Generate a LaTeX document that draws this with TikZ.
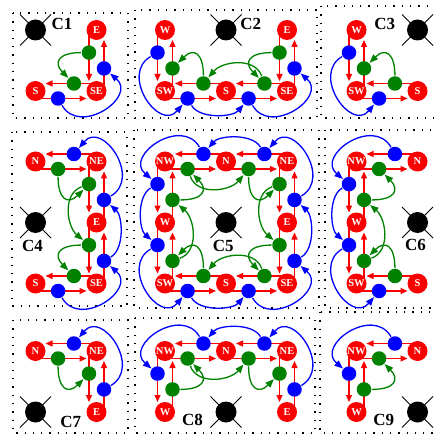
\documentclass[tikz,border=0pt]{standalone}
\usepackage{fontspec}
\setmainfont{Liberation Serif}
\usetikzlibrary{calc,arrows.meta}
\definecolor{rr}{RGB}{250,0,0}
\definecolor{bb}{RGB}{0,0,255}
\definecolor{gg}{RGB}{0,130,0}
\tikzset{
  rnode/.style={circle, fill=rr, minimum size=20pt, inner sep=0pt, text=white, font=\fontsize{10.5}{10.5}\selectfont\bfseries},
  bdot/.style={circle, fill=bb, minimum size=14.5pt, inner sep=0pt},
  gdot/.style={circle, fill=gg, minimum size=14.5pt, inner sep=0pt},
  redarr/.style={draw=rr, line width=1.3pt, shorten >=10pt, -{Triangle[length=7pt,width=6pt]}},
  bcurve/.style={draw=bb, line width=1.3pt, -{Triangle[length=8.5pt,width=6.5pt]}},
  gcurve/.style={draw=gg, line width=1.3pt, -{Triangle[length=8.5pt,width=6.5pt]}},
  dotbox/.style={draw=black, line width=1.3pt, dash pattern=on 1.3pt off 7pt},
  lbl/.style={font=\fontsize{17}{17}\selectfont\bfseries, inner sep=0pt},
  obnode/.style={circle, fill=black, minimum size=21pt, inner sep=0pt},
  xline/.style={draw=black, line width=1pt}
}
\newcommand\mkcell[3]{%
 \coordinate (#1) at (#2,-#3);
 \coordinate (#1N) at (#2,-#3+61);
 \coordinate (#1NE) at (#2+61,-#3+61);
 \coordinate (#1E) at (#2+61,-#3);
 \coordinate (#1SE) at (#2+61,-#3-61);
 \coordinate (#1S) at (#2,-#3-61);
 \coordinate (#1SW) at (#2-61,-#3-61);
 \coordinate (#1W) at (#2-61,-#3);
 \coordinate (#1NW) at (#2-61,-#3+61);
}
\newcommand\paired[4]{%
 \draw[redarr] ($(#1#2)+(#4)$) -- node[gdot,pos=.37] (#1g#2) {} ($(#1#3)+(#4)$);
 \draw[redarr] ($(#1#3)-(#4)$) -- node[bdot,pos=.37] (#1b#3) {} ($(#1#2)-(#4)$);
}
\newcommand\eNWN[1]{\paired{#1}{NW}{N}{0,-7.5}}
\newcommand\eNNE[1]{\paired{#1}{N}{NE}{0,-7.5}}
\newcommand\eNEE[1]{\paired{#1}{NE}{E}{-7.5,0}}
\newcommand\eESE[1]{\paired{#1}{E}{SE}{-7.5,0}}
\newcommand\eSES[1]{\paired{#1}{SE}{S}{0,7.5}}
\newcommand\eSSW[1]{\paired{#1}{S}{SW}{0,7.5}}
\newcommand\eSWW[1]{\paired{#1}{SW}{W}{7.5,0}}
\newcommand\eWNW[1]{\paired{#1}{W}{NW}{7.5,0}}
\newcommand\rn[2]{\node[rnode] (#1#2n) at (#1#2) {#2};}
\newcommand\mkobst[1]{%
 \draw[xline] ($(#1)+(-15.5,15.5)$) -- ($(#1)+(15.5,-15.5)$);
 \draw[xline] ($(#1)+(-15.5,-15.5)$) -- ($(#1)+(15.5,15.5)$);
 \node[obnode] (#1o) at (#1) {};
}
\newcommand\crv[6]{\draw[#1] (#2) to[out=#3,in=#4,looseness=#5] (#6);}
\newcommand\BcSE[1]{\crv{bcurve}{#1bS}{-60}{-40}{1.6}{#1bSE}}
\newcommand\BcNE[1]{\crv{bcurve}{#1bE}{30}{50}{1.6}{#1bNE}}
\newcommand\BcNW[1]{\crv{bcurve}{#1bN}{120}{140}{1.6}{#1bNW}}
\newcommand\BcSW[1]{\crv{bcurve}{#1bW}{210}{230}{1.6}{#1bSW}}
\newcommand\BsS[1]{\crv{bcurve}{#1bSW}{-60}{-130}{0.8}{#1bS}}
\newcommand\BsE[1]{\crv{bcurve}{#1bSE}{30}{-40}{0.8}{#1bE}}
\newcommand\BsN[1]{\crv{bcurve}{#1bNE}{120}{50}{0.8}{#1bN}}
\newcommand\BsW[1]{\crv{bcurve}{#1bNW}{210}{140}{0.8}{#1bW}}
\newcommand\GsS[1]{\crv{gcurve}{#1gSE}{110}{50}{1}{#1gS}}
\newcommand\GsE[1]{\crv{gcurve}{#1gNE}{200}{140}{1}{#1gE}}
\newcommand\GsN[1]{\crv{gcurve}{#1gNW}{290}{230}{1}{#1gN}}
\newcommand\GsW[1]{\crv{gcurve}{#1gSW}{20}{-40}{1}{#1gW}}
\newcommand\GcSE[1]{\crv{gcurve}{#1gE}{180}{135}{2}{#1gSE}}
\newcommand\GcNE[1]{\crv{gcurve}{#1gN}{270}{225}{2}{#1gNE}}
\newcommand\GcNW[1]{\crv{gcurve}{#1gW}{0}{-45}{2}{#1gNW}}
\newcommand\GcSW[1]{\crv{gcurve}{#1gS}{90}{45}{2}{#1gSW}}
\begin{document}
\begin{tikzpicture}[x=1pt,y=1pt]
\useasboundingbox (0,0) rectangle (434,-438);
% dotted boxes
\draw[dotbox] (13,-13) rectangle (128,-118);
\draw[dotbox] (135,-10) rectangle (317,-118);
\draw[dotbox] (321,-6) rectangle (445,-118);
\draw[dotbox] (12,-132) rectangle (127,-306);
\draw[dotbox] (134,-130) rectangle (319,-308);
\draw[dotbox] (325,-130) rectangle (445,-308);
\draw[dotbox] (13,-320) rectangle (128,-433);
\draw[dotbox] (135,-318) rectangle (315,-433);
\draw[dotbox] (320,-312) rectangle (445,-433);
% cells
\mkcell{c1}{35.5}{30}
\mkcell{c2}{226}{30}
\mkcell{c3}{417.5}{30}
\mkcell{c4}{35.5}{222.5}
\mkcell{c5}{226}{222.5}
\mkcell{c6}{417.5}{222.5}
\mkcell{c7}{35.5}{412}
\mkcell{c8}{226}{412}
\mkcell{c9}{417.5}{412}
% obstacles
\mkobst{c1}\mkobst{c2}\mkobst{c3}\mkobst{c4}\mkobst{c5}\mkobst{c6}\mkobst{c7}\mkobst{c8}\mkobst{c9}
% labels
\node[lbl] (c1l) at ($(c1)+(26.5,6)$) {C1};
\node[lbl] (c2l) at ($(c2)+(24.8,6)$) {C2};
\node[lbl] (c3l) at ($(c3)+(-32.8,6)$) {C3};
\node[lbl] (c4l) at ($(c4)+(-3,-23.3)$) {C4};
\node[lbl] (c5l) at ($(c5)+(-2.7,-23.3)$) {C5};
\node[lbl] (c6l) at ($(c6)+(-2,-22.5)$) {C6};
\node[lbl] (c7l) at ($(c7)+(35.3,-9.7)$) {C7};
\node[lbl] (c8l) at ($(c8)+(-33.5,-8)$) {C8};
\node[lbl] (c9l) at ($(c9)+(-33.7,-8)$) {C9};
% red edges with dots
\eESE{c1}\eSES{c1}
\eESE{c2}\eSES{c2}\eSSW{c2}\eSWW{c2}
\eSSW{c3}\eSWW{c3}
\eNNE{c4}\eNEE{c4}\eESE{c4}\eSES{c4}
\eNWN{c5}\eNNE{c5}\eNEE{c5}\eESE{c5}\eSES{c5}\eSSW{c5}\eSWW{c5}\eWNW{c5}
\eSSW{c6}\eSWW{c6}\eWNW{c6}\eNWN{c6}
\eNNE{c7}\eNEE{c7}
\eWNW{c8}\eNWN{c8}\eNNE{c8}\eNEE{c8}
\eWNW{c9}\eNWN{c9}
% red nodes
\rn{c1}{E}\rn{c1}{SE}\rn{c1}{S}
\rn{c2}{E}\rn{c2}{SE}\rn{c2}{S}\rn{c2}{SW}\rn{c2}{W}
\rn{c3}{S}\rn{c3}{SW}\rn{c3}{W}
\rn{c4}{N}\rn{c4}{NE}\rn{c4}{E}\rn{c4}{SE}\rn{c4}{S}
\rn{c5}{NW}\rn{c5}{N}\rn{c5}{NE}\rn{c5}{E}\rn{c5}{SE}\rn{c5}{S}\rn{c5}{SW}\rn{c5}{W}
\rn{c6}{S}\rn{c6}{SW}\rn{c6}{W}\rn{c6}{NW}\rn{c6}{N}
\rn{c7}{N}\rn{c7}{NE}\rn{c7}{E}
\rn{c8}{W}\rn{c8}{NW}\rn{c8}{N}\rn{c8}{NE}\rn{c8}{E}
\rn{c9}{W}\rn{c9}{NW}\rn{c9}{N}
% curves
\BcSE{c1}\GcSE{c1}
\BcSW{c2}\BsS{c2}\BcSE{c2}\GcSE{c2}\GsS{c2}\GcSW{c2}
\BcSW{c3}\GcSW{c3}
\BcSE{c4}\BsE{c4}\BcNE{c4}\GcNE{c4}\GsE{c4}\GcSE{c4}
\BcSE{c5}\BsE{c5}\BcNE{c5}\BsN{c5}\BcNW{c5}\BsW{c5}\BcSW{c5}\BsS{c5}
\GcSE{c5}\GsS{c5}\GcSW{c5}\GsW{c5}\GcNW{c5}\GsN{c5}\GcNE{c5}\GsE{c5}
\BcNW{c6}\BsW{c6}\BcSW{c6}\GcSW{c6}\GsW{c6}\GcNW{c6}
\BcNE{c7}\GcNE{c7}
\BcNE{c8}\BsN{c8}\BcNW{c8}\GcNW{c8}\GsN{c8}\GcNE{c8}
\BcNW{c9}\GcNW{c9}
\end{tikzpicture}
\end{document}
